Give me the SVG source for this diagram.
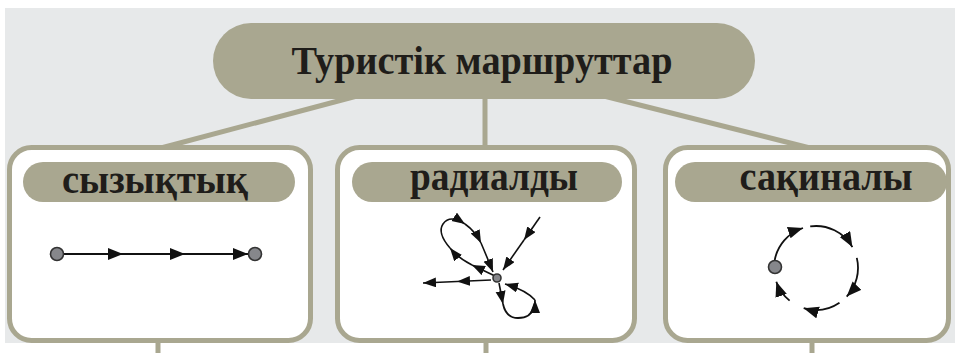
<svg xmlns="http://www.w3.org/2000/svg" width="955" height="353" viewBox="0 0 955 353">
  <style>
    .bg { fill: #e7e9ea; }
    .pill { fill: #a9a790; }
    .box { fill: #ffffff; stroke: #a9a790; stroke-width: 5; }
    .conn { stroke: #a9a790; stroke-width: 5; fill: none; }
    .title { font-family: "Liberation Serif", "Times New Roman", serif; font-weight: bold; fill: #1f1d1a; text-anchor: middle; }
    .ln { stroke: #111; stroke-width: 1.8; fill: none; }
    .lnA { stroke: #111; stroke-width: 1.8; fill: none; marker-end: url(#ah); }
    .lnS { stroke: #111; stroke-width: 1.6; fill: none; marker-end: url(#ahs); }
    .node { fill: #86878b; stroke: #333; stroke-width: 1.6; }
  </style>
  <defs>
    <marker id="ah" markerUnits="userSpaceOnUse" markerWidth="17" markerHeight="14" refX="15" refY="6" orient="auto">
      <path d="M0,0 L15,6 L0,12 Z" fill="#111"/>
    </marker>
    <marker id="ahs" markerUnits="userSpaceOnUse" markerWidth="15" markerHeight="12" refX="13" refY="5" orient="auto">
      <path d="M0,0 L13,5 L0,10 Z" fill="#111"/>
    </marker>
  </defs>

  <rect class="bg" x="5" y="8" width="950" height="335"/>

  <g id="connectors">
    <line class="conn" x1="372" y1="92" x2="161" y2="148"/>
    <line class="conn" x1="485" y1="92" x2="485" y2="148"/>
    <line class="conn" x1="588" y1="92" x2="810" y2="148"/>
    <line class="conn" x1="158" y1="340" x2="158" y2="353"/>
    <line class="conn" x1="486" y1="340" x2="486" y2="353"/>
    <line class="conn" x1="812" y1="340" x2="812" y2="353"/>
  </g>

  <g id="root">
    <rect class="pill" x="213" y="23" width="542" height="76" rx="38" ry="38"/>
    <text class="title" x="482" y="74" font-size="40" textLength="381" lengthAdjust="spacingAndGlyphs">Туристік маршруттар</text>
  </g>

  <g id="linear">
    <rect class="box" x="9.5" y="147.5" width="301" height="193" rx="22"/>
    <rect class="pill" x="23" y="162" width="272" height="40" rx="20"/>
    <text class="title" x="155" y="193" font-size="42" textLength="186" lengthAdjust="spacingAndGlyphs">сызықтық</text>
    <line class="lnA" x1="63" y1="254" x2="123" y2="254"/>
    <line class="lnA" x1="123" y1="254" x2="185" y2="254"/>
    <line class="lnA" x1="185" y1="254" x2="248" y2="254"/>
    <circle class="node" cx="57" cy="254" r="6.5"/>
    <circle class="node" cx="255" cy="254" r="6.5"/>
  </g>

  <g id="radial">
    <rect class="box" x="337.5" y="147.5" width="297" height="193" rx="22"/>
    <rect class="pill" x="352" y="162" width="270" height="40" rx="20"/>
    <text class="title" x="494" y="190" font-size="40" textLength="168" lengthAdjust="spacingAndGlyphs">радиалды</text>
    <!-- incoming straight -->
    <line class="lnS" x1="540" y1="217" x2="524" y2="240"/>
    <line class="lnS" x1="524" y1="240" x2="503" y2="270"/>
    <!-- outgoing left -->
    <line class="lnS" x1="491" y1="280" x2="457" y2="281.5"/>
    <line class="lnS" x1="457" y1="281.5" x2="423" y2="283"/>
    <!-- upper loop -->
    <path class="lnS" d="M495,276 L472,265"/>
    <path class="lnS" d="M472,265 Q458,258 450,248"/>
    <path class="lnS" d="M450,248 Q437,233 443,224 Q450,214 465,224"/>
    <path class="lnS" d="M465,224 Q475,231 481,243"/>
    <path class="lnS" d="M481,243 Q487,257 493,272"/>
    <!-- lower loop -->
    <path class="lnS" d="M499,283 L503,304"/>
    <path class="ln" d="M503,304 Q506,318 518,318 Q531,318 534,307"/>
    <path class="lnS" d="M531,313 Q535,306 535,300"/>
    <path class="lnS" d="M535,300 Q526,290 505,284"/>
    <circle class="node" cx="497" cy="278" r="4"/>
  </g>

  <g id="ring">
    <rect class="box" x="665.5" y="147.5" width="283" height="193" rx="22"/>
    <rect class="pill" x="675" y="162" width="272" height="40" rx="20"/>
    <text class="title" x="826" y="190" font-size="40" textLength="173" lengthAdjust="spacingAndGlyphs">сақиналы</text>
    <path class="lnA" d="M774.6,260.7 A42,42 0 0 1 803,228"/>
    <path class="lnA" d="M810.2,226.4 A42,42 0 0 1 852.4,247.1"/>
    <path class="lnA" d="M856.8,257.9 A42,42 0 0 1 846.7,296.6"/>
    <path class="lnA" d="M839.5,302.8 A42,42 0 0 1 803.7,308.2"/>
    <path class="lnA" d="M789.6,300.6 A42,42 0 0 1 776.3,281.7"/>
    <circle class="node" cx="775" cy="267" r="6.5"/>
  </g>
</svg>
